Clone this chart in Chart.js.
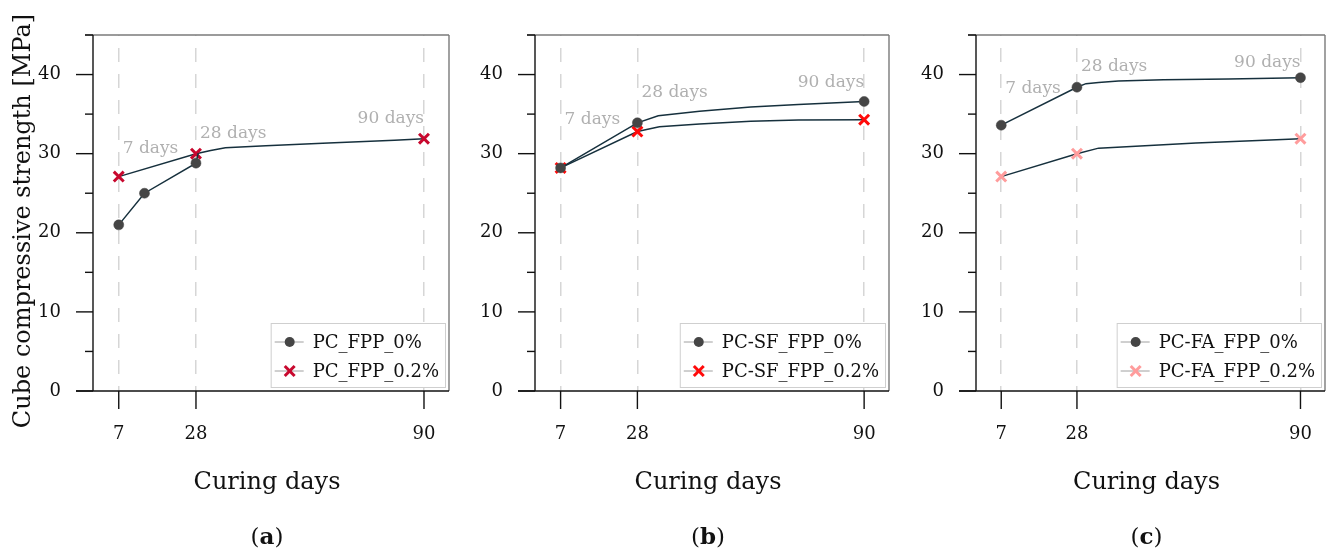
<!DOCTYPE html>
<html>
<head>
<meta charset="utf-8">
<script src="https://cdn.jsdelivr.net/npm/chart.js@4.4.0/dist/chart.umd.min.js"></script>
<style>
  html, body { margin: 0; padding: 0; background: #fff; }
  #wrap { position: relative; width: 1335px; height: 551px; }
  canvas { position: absolute; top: 0; }
</style>
</head>
<body>
<div id="wrap">
  <canvas id="chartA" width="460" height="551" style="left:0px"></canvas>
  <canvas id="chartB" width="440" height="551" style="left:460px"></canvas>
  <canvas id="chartC" width="435" height="551" style="left:900px"></canvas>
</div>
<script>
// axes
const tickDays = [7, 28, 90];
const yTicks = [0, 10, 20, 30, 40];
const yMinor = [5, 15, 25, 35, 45];
const dayLabels = ['7 days', '28 days', '90 days'];

// (a) PC
const aDays0 = [7, 14, 28, 28.6];
const aVals0 = [21.0, 25.0, 28.8, 30.05];
const aMarks0 = [7, 14, 28];
const aDays2 = [7, 28, 32, 36, 47, 64, 82, 90];
const aVals2 = [27.1, 30.0, 30.4, 30.75, 31.0, 31.35, 31.7, 31.9];
const aMarks2 = [7, 28, 90];
const aNames = ['PC_FPP_0%', 'PC_FPP_0.2%'];

// (b) PC-SF
const bDays0 = [7, 28, 33.7, 45, 59, 72, 81, 90];
const bVals0 = [28.2, 33.9, 34.8, 35.35, 35.9, 36.2, 36.4, 36.6];
const bMarks0 = [7, 28, 90];
const bDays2 = [7, 28, 34, 45, 59, 72, 90];
const bVals2 = [28.2, 32.8, 33.4, 33.75, 34.1, 34.25, 34.3];
const bMarks2 = [7, 28, 90];
const bNames = ['PC-SF_FPP_0%', 'PC-SF_FPP_0.2%'];

// (c) PC-FA
const cDays0 = [7, 28, 30.5, 34, 39.5, 52, 70, 90];
const cVals0 = [33.6, 38.4, 38.85, 39.0, 39.2, 39.35, 39.45, 39.6];
const cMarks0 = [7, 28, 90];
const cDays2 = [7, 28, 34, 43, 61, 80, 90];
const cVals2 = [27.1, 30.0, 30.7, 30.9, 31.35, 31.7, 31.9];
const cMarks2 = [7, 28, 90];
const cNames = ['PC-FA_FPP_0%', 'PC-FA_FPP_0.2%'];

const SERIF = '"DejaVu Serif", serif';
const LINE = '#16303d';

function seg(ctx, x1, y1, x2, y2) {
    ctx.beginPath();
    ctx.moveTo(x1, y1);
    ctx.lineTo(x2, y2);
    ctx.stroke();
}

function marker(ctx, st, x, y) {
    if (st.shape === 'circle') {
        ctx.fillStyle = st.color;
        ctx.beginPath();
        ctx.arc(x, y, st.r, 0, Math.PI * 2);
        ctx.fill();
    } else {
        const d = st.r * 0.707;
        ctx.strokeStyle = st.color;
        ctx.lineWidth = st.bw;
        seg(ctx, x - d, y - d, x + d, y + d);
        seg(ctx, x - d, y + d, x + d, y - d);
    }
}

function series(days, vals, marks, st, label) {
    return {
        label: label,
        data: days.map((d, i) => ({ x: d, y: vals[i] })),
        borderColor: LINE,
        borderWidth: 1.5,
        tension: 0,
        pointStyle: st.shape === 'circle' ? 'circle' : 'crossRot',
        pointRadius: c => (c.raw && marks.includes(c.raw.x)) ? st.r : 0,
        pointHoverRadius: 0,
        pointBackgroundColor: st.color,
        pointBorderColor: st.color,
        pointBorderWidth: st.shape === 'circle' ? 0.5 : st.bw
    };
}

const decor = {
    id: 'decor',
    afterDraw(chart, args, o) {
        const { ctx, chartArea: a } = chart;
        const x = chart.scales.x, y = chart.scales.y;
        ctx.save();

        // frame and ticks
        ctx.lineWidth = 1.4;
        ctx.strokeStyle = '#7a7a7a';
        seg(ctx, a.left - 8, a.top, a.right, a.top);
        seg(ctx, a.right, a.top, a.right, a.bottom);
        ctx.strokeStyle = '#111';
        seg(ctx, a.left, a.top, a.left, a.bottom);
        seg(ctx, a.left - 17, a.bottom, a.right, a.bottom);
        yTicks.forEach(v => seg(ctx, a.left - 17, y.getPixelForValue(v), a.left, y.getPixelForValue(v)));
        yMinor.forEach(v => seg(ctx, a.left - 8, y.getPixelForValue(v), a.left, y.getPixelForValue(v)));
        tickDays.forEach(d => seg(ctx, x.getPixelForValue(d), a.bottom, x.getPixelForValue(d), a.bottom + 18));

        // day labels
        ctx.font = '17px ' + SERIF;
        ctx.fillStyle = '#b0b0b0';
        ctx.textBaseline = 'alphabetic';
        tickDays.forEach((d, i) => {
            const last = i === tickDays.length - 1;
            ctx.textAlign = last ? 'right' : 'left';
            ctx.fillText(dayLabels[i], x.getPixelForValue(d) + (last ? 0 : 4), y.getPixelForValue(o.labelY[i]));
        });

        // legend
        ctx.font = '18px ' + SERIF;
        const tw = Math.max(...o.names.map(n => ctx.measureText(n).width));
        const bw = 42 + tw + 6, bh = 64;
        const bx = a.right - 4 - bw, by = a.bottom - 4 - bh;
        ctx.fillStyle = '#fff';
        ctx.fillRect(bx, by, bw, bh);
        ctx.strokeStyle = '#cfcfcf';
        ctx.lineWidth = 1;
        ctx.strokeRect(bx + 0.5, by + 0.5, bw, bh);
        o.names.forEach((n, i) => {
            const ry = by + 19 + i * 29;
            ctx.strokeStyle = '#a0a0a0';
            ctx.lineWidth = 1;
            seg(ctx, bx + 4, ry, bx + 33, ry);
            marker(ctx, o.styles[i], bx + 19, ry);
            ctx.fillStyle = '#111';
            ctx.textAlign = 'left';
            ctx.textBaseline = 'middle';
            ctx.fillText(n, bx + 42, ry + 1);
        });

        // titles
        const cx = (a.left + a.right) / 2 - 4;
        ctx.fillStyle = '#111';
        ctx.textBaseline = 'alphabetic';
        ctx.textAlign = 'center';
        ctx.font = '24px ' + SERIF;
        ctx.fillText('Curing days', cx, 489);

        const bold = 'bold 23px ' + SERIF, norm = '23px ' + SERIF;
        ctx.font = norm;
        const pw = ctx.measureText('(').width, qw = ctx.measureText(')').width;
        ctx.font = bold;
        const lw = ctx.measureText(o.letter).width;
        let px = cx - (pw + lw + qw) / 2;
        ctx.textAlign = 'left';
        ctx.font = norm;
        ctx.fillText('(', px, 544);
        ctx.font = bold;
        ctx.fillText(o.letter, px + pw, 544);
        ctx.font = norm;
        ctx.fillText(')', px + pw + lw, 544);

        if (o.yTitle) {
            ctx.translate(30, 221);
            ctx.rotate(-Math.PI / 2);
            ctx.textAlign = 'center';
            ctx.font = '24px ' + SERIF;
            ctx.fillText(o.yTitle, 0, 0);
        }
        ctx.restore();
    }
};

function makePanel(id, sets, yWidth, rightPad, deco) {
    return new Chart(document.getElementById(id), {
        type: 'line',
        data: { datasets: sets },
        plugins: [decor],
        options: {
            responsive: false,
            animation: false,
            layout: { padding: { top: 35, right: rightPad, left: 0, bottom: 0 } },
            plugins: { legend: { display: false }, tooltip: { enabled: false }, decor: deco },
            scales: {
                x: {
                    type: 'linear', min: 0, max: 96.8,
                    afterBuildTicks: s => { s.ticks = tickDays.map(v => ({ value: v })); },
                    afterFit: s => { s.height = 160; s.paddingLeft = 0; s.paddingRight = 0; },
                    grid: { color: '#d6d6d6', lineWidth: 1.5, drawTicks: false },
                    border: { display: false, dash: [14, 12], dashOffset: 13 },
                    ticks: { padding: 33, color: '#111', font: { family: SERIF, size: 18 }, maxRotation: 0 }
                },
                y: {
                    min: 0, max: 45,
                    afterBuildTicks: s => { s.ticks = yTicks.map(v => ({ value: v })); },
                    afterFit: s => { s.width = yWidth; s.paddingTop = 0; s.paddingBottom = 0; },
                    grid: { display: false, drawTicks: false },
                    border: { display: false },
                    ticks: { padding: 32, color: '#111', font: { family: SERIF, size: 18 } }
                }
            }
        }
    });
}

const dot = { shape: 'circle', r: 5, color: '#454545' };
const crossA = { shape: 'cross', r: 7, bw: 3, color: '#c8082e' };
const crossB = { shape: 'cross', r: 7, bw: 3, color: '#ff0a0a' };
const crossC = { shape: 'cross', r: 7, bw: 3, color: '#ff9c9c' };

makePanel('chartA', [
    series(aDays0, aVals0, aMarks0, dot, aNames[0]),
    series(aDays2, aVals2, aMarks2, crossA, aNames[1])
], 93, 11, { letter: 'a', labelY: [30.1, 32.0, 33.9], names: aNames, styles: [dot, crossA],
    yTitle: 'Cube compressive strength [MPa]' });

makePanel('chartB', [
    series(bDays0, bVals0, bMarks0, dot, bNames[0]),
    series(bDays2, bVals2, bMarks2, crossB, bNames[1])
], 75, 11, { letter: 'b', labelY: [33.7, 37.2, 38.4], names: bNames, styles: [dot, crossB] });

makePanel('chartC', [
    series(cDays0, cVals0, cMarks0, dot, cNames[0]),
    series(cDays2, cVals2, cMarks2, crossC, cNames[1])
], 76, 6, { letter: 'c', labelY: [37.7, 40.5, 41.0], names: cNames, styles: [dot, crossC] });
</script>
</body>
</html>
